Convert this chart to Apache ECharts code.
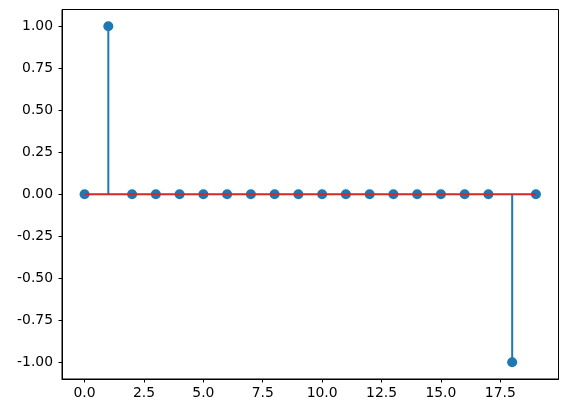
<!DOCTYPE html>
<html>
<head>
<meta charset="utf-8">
<script src="https://cdn.jsdelivr.net/npm/echarts@6/dist/echarts.min.js"></script>
<style>
  html, body { margin: 0; padding: 0; background: #fff; }
  #chart { width: 568px; height: 413px; }
</style>
</head>
<body>
<div id="chart"></div>
<script>
  // stem plot data
  const xValues = [0, 1, 2, 3, 4, 5, 6, 7, 8, 9, 10, 11, 12, 13, 14, 15, 16, 17, 18, 19]
  const yValues = [0, 1, 0, 0, 0, 0, 0, 0, 0, 0, 0, 0, 0, 0, 0, 0, 0, 0, -1, 0]
  const xTicks = [0, 2.5, 5, 7.5, 10, 12.5, 15, 17.5]
  const yTicks = [-1, -0.75, -0.5, -0.25, 0, 0.25, 0.5, 0.75, 1]

  const points = xValues.map((x, i) => [x, yValues[i]])
  const baseline = [[xValues[0], 0], [xValues[xValues.length - 1], 0]]

  const chart = echarts.init(document.getElementById('chart'))
  const labelFont = { color: '#000', fontSize: 13.9, fontFamily: 'DejaVu Sans' }
  const axisLine = { show: true, onZero: false, lineStyle: { color: '#000', width: 1 } }

  const option = {
    animation: false,
    backgroundColor: '#fff',
    grid: {
      left: 62, right: 9.5, top: 9.5, bottom: 34,
      show: true, borderColor: '#000', borderWidth: 1,
    },
    xAxis: {
      type: 'value',
      min: -0.95,
      max: 19.95,
      splitLine: { show: false },
      axisLine: axisLine,
      axisTick: {
        show: true, inside: false, length: 3.5,
        lineStyle: { color: '#000', width: 1 },
        customValues: xTicks,
      },
      axisLabel: {
        ...labelFont, margin: 7,
        customValues: xTicks,
        formatter: v => v.toFixed(1),
      },
    },
    yAxis: {
      type: 'value',
      min: -1.1,
      max: 1.1,
      splitLine: { show: false },
      axisLine: axisLine,
      axisTick: {
        show: true, inside: false, length: 3.5,
        lineStyle: { color: '#000', width: 1 },
        customValues: yTicks,
      },
      axisLabel: {
        ...labelFont, margin: 9,
        customValues: yTicks,
        formatter: v => v.toFixed(2),
      },
    },
    series: [
      {
        // markers
        type: 'scatter',
        data: points,
        symbol: 'circle',
        symbolSize: 10,
        itemStyle: { color: '#1f77b4', opacity: 1 },
        z: 2,
      },
      {
        // stem lines
        type: 'custom',
        data: points,
        renderItem: (params, api) => {
          const p0 = api.coord([api.value(0), 0])
          const p1 = api.coord([api.value(0), api.value(1)])
          return {
            type: 'line',
            shape: { x1: p0[0], y1: p0[1], x2: p1[0], y2: p1[1] },
            style: { stroke: '#1f77b4', lineWidth: 2 },
          }
        },
        z: 3,
      },
      {
        // baseline
        type: 'line',
        data: baseline,
        symbol: 'none',
        lineStyle: { color: '#d62728', width: 2 },
        z: 4,
      },
    ],
  }
  chart.setOption(option)
</script>
</body>
</html>
